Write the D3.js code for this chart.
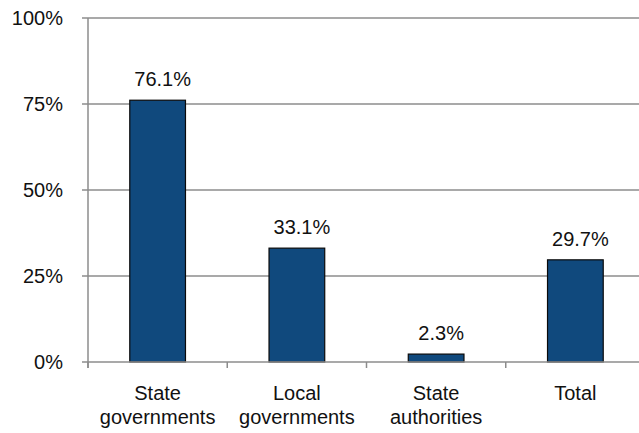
<!DOCTYPE html>
<html>
<head>
<meta charset="utf-8">
<script src="https://cdn.jsdelivr.net/npm/d3@7"></script>
<style>
  body { margin: 0; background: #fff; }
  svg { display: block; }
  text { font-family: "Liberation Sans Narrow", "Arial Narrow", "Liberation Sans", sans-serif; fill: #111; }
</style>
</head>
<body>
<svg class="chart" width="639" height="433"></svg>
<script>
// data
var categories = [["State", "governments"], ["Local", "governments"], ["State", "authorities"], ["Total"]];
var values = [76.1, 33.1, 2.3, 29.7];
var yTicks = [0, 25, 50, 75, 100];

var chart = d3.select("svg.chart"),
    plotLeft = 88, plotRight = 645, plotTop = 18, plotBottom = 362;

var xScale = d3.scaleBand().domain(d3.range(values.length)).range([plotLeft, plotRight]).paddingInner(0).paddingOuter(0);
var yScale = d3.scaleLinear().domain([0, 100]).range([plotBottom, plotTop]);
var barW = xScale.bandwidth() * 0.4;

// gridlines (y ticks stick out left of the axis)
chart.append("g").selectAll("line")
  .data(yTicks.filter(function(t) { return t > 0; }))
  .enter().append("line")
  .attr("x1", plotLeft - 6).attr("x2", 639)
  .attr("y1", function(d) { return yScale(d); })
  .attr("y2", function(d) { return yScale(d); })
  .attr("stroke", "#8c8c8c").attr("stroke-width", 1.5);

// bars
chart.append("g").selectAll("rect")
  .data(values)
  .enter().append("rect")
  .attr("x", function(d, i) { return xScale(i) + xScale.bandwidth() / 2 - barW / 2; })
  .attr("y", function(d) { return yScale(d); })
  .attr("width", barW)
  .attr("height", function(d) { return plotBottom - yScale(d); })
  .attr("fill", "#10497d")
  .attr("stroke", "#0a0a0a").attr("stroke-width", 1.2);

// y axis line
chart.append("line")
  .attr("x1", plotLeft).attr("x2", plotLeft)
  .attr("y1", plotTop).attr("y2", plotBottom + 6)
  .attr("stroke", "#8c8c8c").attr("stroke-width", 1.5);

// x axis line
chart.append("line")
  .attr("x1", plotLeft - 6).attr("x2", 639)
  .attr("y1", plotBottom).attr("y2", plotBottom)
  .attr("stroke", "#8c8c8c").attr("stroke-width", 1.5);

// x category ticks
chart.append("g").selectAll("line")
  .data(d3.range(values.length + 1))
  .enter().append("line")
  .attr("x1", function(i) { return plotLeft + i * xScale.bandwidth(); })
  .attr("x2", function(i) { return plotLeft + i * xScale.bandwidth(); })
  .attr("y1", plotBottom).attr("y2", plotBottom + 6)
  .attr("stroke", "#8c8c8c").attr("stroke-width", 1.5);

// y tick labels
chart.append("g").selectAll("text")
  .data(yTicks)
  .enter().append("text")
  .attr("x", plotLeft - 25)
  .attr("y", function(d) { return yScale(d); })
  .attr("dy", "0.35em")
  .attr("text-anchor", "end")
  .style("font-size", "20px")
  .text(function(d) { return d + "%"; });

// value labels
chart.append("g").selectAll("text")
  .data(values)
  .enter().append("text")
  .attr("x", function(d, i) { return xScale(i) + xScale.bandwidth() / 2 + 5; })
  .attr("y", function(d) { return yScale(d) - 14; })
  .attr("text-anchor", "middle")
  .style("font-size", "20px")
  .text(function(d) { return d.toFixed(1) + "%"; });

// category labels
var cat = chart.append("g").selectAll("text")
  .data(categories)
  .enter().append("text")
  .attr("text-anchor", "middle")
  .style("font-size", "20px")
  .attr("x", function(d, i) { return xScale(i) + xScale.bandwidth() / 2; })
  .attr("y", 400);
cat.selectAll("tspan")
  .data(function(d) { return d; })
  .enter().append("tspan")
  .attr("x", function() { return d3.select(this.parentNode).attr("x"); })
  .attr("dy", function(d, j) { return j === 0 ? 0 : 24; })
  .text(function(d) { return d; });
</script>
</body>
</html>
